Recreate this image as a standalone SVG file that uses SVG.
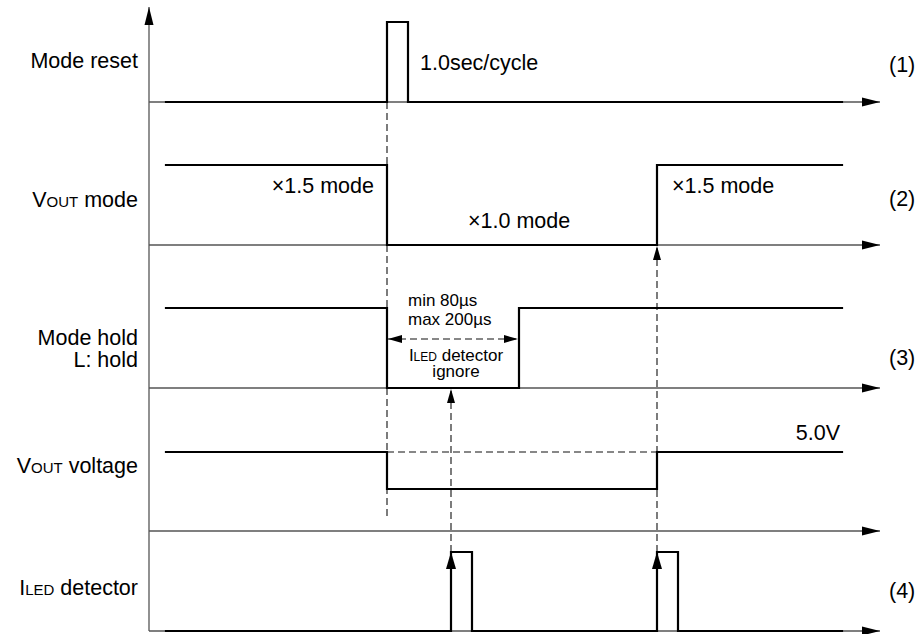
<svg xmlns="http://www.w3.org/2000/svg" width="919" height="634" viewBox="0 0 919 634">
<style>
text { font-family: "Liberation Sans", Arial, Helvetica, sans-serif; fill: #000; }
.lbl { font-size: 21.5px; }
.sm { font-size: 17px; }
.sc { font-size: 15px; }
.sc2 { font-size: 12px; }
.axis { stroke: #555; stroke-width: 1.3; fill: none; }
.sig { stroke: #000; stroke-width: 2.2; fill: none; stroke-linejoin: miter; stroke-linecap: square; }
.dash { stroke: #111; stroke-width: 1.1; fill: none; stroke-dasharray: 7 4; }
.head { fill: #000; stroke: none; }
</style>
<defs>
<marker id="axHead" markerUnits="userSpaceOnUse" markerWidth="18" markerHeight="10" refX="18" refY="5" orient="auto">
<path d="M0,0.5 L18,5 L0,9.5 z" fill="#000"/>
</marker>
<marker id="dHead" markerUnits="userSpaceOnUse" markerWidth="14" markerHeight="10" refX="14" refY="5" orient="auto-start-reverse">
<path d="M0,1 L14,5 L0,9 z" fill="#000"/>
</marker>
</defs>

<g id="axes">
<line class="axis" x1="149" y1="631" x2="149" y2="7" marker-end="url(#axHead)"/>
<line class="axis" x1="149" y1="102" x2="880" y2="102" marker-end="url(#axHead)"/>
<line class="axis" x1="149" y1="245" x2="880" y2="245" marker-end="url(#axHead)"/>
<line class="axis" x1="149" y1="388" x2="880" y2="388" marker-end="url(#axHead)"/>
<line class="axis" x1="149" y1="531" x2="880" y2="531" marker-end="url(#axHead)"/>
<line class="axis" x1="149" y1="631" x2="880" y2="631" marker-end="url(#axHead)"/>
</g>

<g id="connectors">
<line class="dash" x1="387" y1="102" x2="387" y2="517"/>
<line class="dash" x1="451" y1="552" x2="451" y2="389" marker-end="url(#dHead)"/>
<line class="dash" x1="657" y1="552" x2="657" y2="246" marker-end="url(#dHead)"/>
<line class="dash" x1="387" y1="452" x2="657" y2="452"/>
<line class="dash" x1="388" y1="339" x2="518" y2="339" marker-start="url(#dHead)" marker-end="url(#dHead)"/>
</g>

<g id="mode-reset">
<text class="lbl" x="138" y="68" text-anchor="end">Mode reset</text>
<polyline class="sig" points="166,102 387,102 387,22 408,22 408,102 842,102"/>
<text class="lbl" x="420" y="70">1.0sec/cycle</text>
<text class="lbl" x="889" y="72">(1)</text>
</g>

<g id="vout-mode">
<text class="lbl" x="138" y="207" text-anchor="end">V<tspan class="sc">OUT</tspan> mode</text>
<polyline class="sig" points="166,165 387,165 387,245 657,245 657,165 842,165"/>
<text class="lbl" x="374" y="193" text-anchor="end">×1.5 mode</text>
<text class="lbl" x="468" y="228">×1.0 mode</text>
<text class="lbl" x="672" y="193">×1.5 mode</text>
<text class="lbl" x="889" y="206">(2)</text>
</g>

<g id="mode-hold">
<text class="lbl" x="138" y="345" text-anchor="end">Mode hold</text>
<text class="lbl" x="138" y="367" text-anchor="end">L: hold</text>
<polyline class="sig" points="166,308 387,308 387,388 519,388 519,308 842,308"/>
<text class="sm" x="408" y="306">min 80µs</text>
<text class="sm" x="408" y="325">max 200µs</text>
<text class="sm" x="456" y="361" text-anchor="middle">I<tspan class="sc2">LED</tspan> detector</text>
<text class="sm" x="456" y="377" text-anchor="middle">ignore</text>
<text class="lbl" x="889" y="365">(3)</text>
</g>

<g id="vout-voltage">
<text class="lbl" x="138" y="473" text-anchor="end">V<tspan class="sc">OUT</tspan> voltage</text>
<polyline class="sig" points="166,452 387,452 387,489 657,489 657,452 842,452"/>
<text class="lbl" x="840" y="440" text-anchor="end">5.0V</text>
</g>

<g id="iled-detector">
<text class="lbl" x="138" y="595" text-anchor="end">I<tspan class="sc">LED</tspan> detector</text>
<polyline class="sig" points="166,631 451,631 451,552 472,552 472,631 657,631 657,552 678,552 678,631 842,631"/>
<path class="head" d="M451,552 L456,569 L446,569 z"/>
<path class="head" d="M657,552 L662,569 L652,569 z"/>
<text class="lbl" x="889" y="598">(4)</text>
</g>
</svg>
